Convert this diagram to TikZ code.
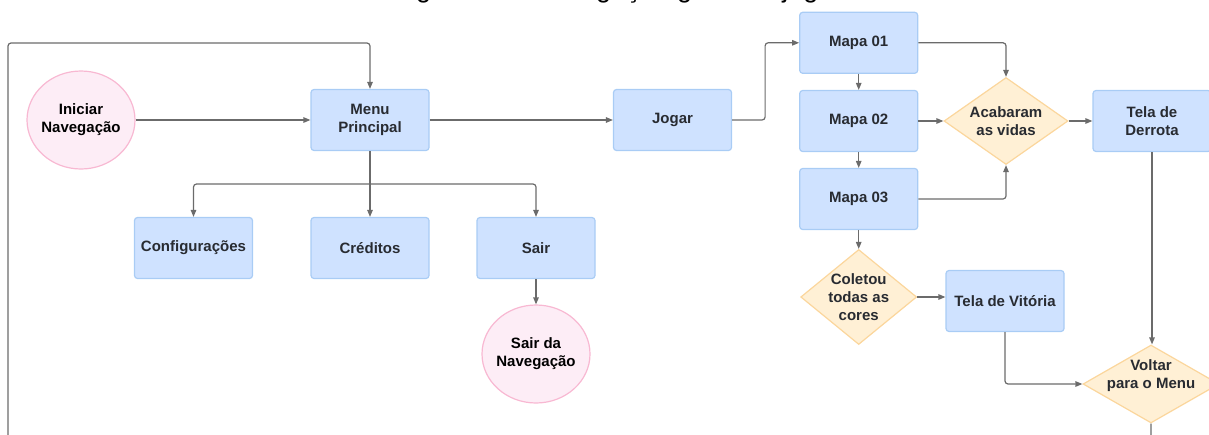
\documentclass[tikz,border=0pt]{standalone}
\usepackage{fontspec}
\setmainfont{Liberation Sans}
\usetikzlibrary{shapes.geometric,arrows.meta}
\definecolor{boxfill}{HTML}{CFE2FF}
\definecolor{boxline}{HTML}{A9CCF5}
\definecolor{decfill}{HTML}{FFF0D5}
\definecolor{decline}{HTML}{FBD69C}
\definecolor{endfill}{HTML}{FDEDF6}
\definecolor{endline}{HTML}{F8B8D2}
\definecolor{wirecol}{HTML}{6B6B6B}
\definecolor{ink}{HTML}{282B31}
\begin{document}
\begin{tikzpicture}[x=1pt,y=-1pt,
  lbl/.style={font=\bfseries\fontsize{15}{18}\selectfont, align=center, text=ink},
  stepbox/.style={lbl, draw=boxline, fill=boxfill, line width=1.2pt,
    rounded corners=3pt, minimum width=118pt, minimum height=61pt, inner sep=0pt},
  decshape/.style={shape=diamond, draw=decline, fill=decfill, line width=1.2pt,
    inner sep=0pt},
  terminal/.style={shape=ellipse, draw=endline, fill=endfill, line width=1.2pt,
    minimum width=108pt, minimum height=98pt, inner sep=0pt,
    label={[lbl,text=black]center:#1}},
  wire/.style={draw=wirecol, line width=1.2pt, rounded corners=3pt,
    -{Triangle[length=7pt,width=5.5pt]}}]
\useasboundingbox (0,0) rectangle (1209,434);

% title (sits above the sheet, only its descenders reach it)
\node[font=\fontsize{27}{32}\selectfont, anchor=base, text=black] (title)
  at (604.5,-2.6) {Diagrama de navegação geral do jogo};

% menu part
\node[terminal={Iniciar\\Navegação}] (start) at (81,120) {};
\node[stepbox] (menu)  at (370,120) {Menu\\Principal};
\node[stepbox] (jogar) at (672.5,120) {Jogar};
\node[stepbox] (cfg)   at (193.5,248) {Configurações};
\node[stepbox] (cred)  at (370,248) {Créditos};
\node[stepbox] (sair)  at (536,248) {Sair};
\node[terminal={Sair da\\Navegação}] (exit) at (536,354) {};

% game part
\node[stepbox] (mapa1) at (858.7,42.8) {Mapa 01};
\node[stepbox] (mapa2) at (858.7,121) {Mapa 02};
\node[stepbox] (mapa3) at (858.7,199) {Mapa 03};
\node[decshape, minimum width=124pt, minimum height=87pt,
  label={[lbl]center:Acabaram\\as vidas}] (acab) at (1006,121) {};
\node[stepbox] (derrota) at (1152,121) {Tela de\\Derrota};
\node[decshape, minimum width=116pt, minimum height=95pt,
  label={[lbl]center:Coletou\\todas as\\cores}] (coletou) at (858.7,297) {};
\node[stepbox] (vitoria) at (1005,301) {Tela de Vitória};
\node[decshape, minimum width=136pt, minimum height=78pt,
  label={[lbl,yshift=8pt]center:Voltar\\para o Menu}] (voltar) at (1151,384) {};

% helper points for the routed lines
\coordinate (fork) at (370,184);
\coordinate (loopleft) at (8,470);
\coordinate (looptop) at (8,43);

% connectors
\draw[wire] (start.east) -- (menu.west);
\draw[wire] (menu.east) -- (jogar.west);
\draw[wire] (menu.south) -- (cred.north);
\draw[wire] (fork) -| (cfg.north);
\draw[wire] (fork) -| (sair.north);
\draw[wire] (sair.south) -- (exit.north);
\draw[wire] (jogar.east) -- ++(33,0) |- (mapa1.west);
\draw[wire] (mapa1.east) -| (acab.north);
\draw[wire] (mapa1.south) -- (mapa2.north);
\draw[wire] (mapa2.south) -- (mapa3.north);
\draw[wire] (mapa2.east) -- (acab.west);
\draw[wire] (mapa3.east) -| (acab.south);
\draw[wire] (acab.east) -- (derrota.west);
\draw[wire] (derrota.south) -- (derrota.south |- voltar.north);
\draw[wire] (mapa3.south) -- (coletou.north);
\draw[wire] (coletou.east) -- (coletou.east -| vitoria.west);
\draw[wire] (vitoria.south) |- (voltar.west);
\draw[wire] (voltar.south) |- (loopleft) -- (looptop) -| (menu.north);
\end{tikzpicture}
\end{document}
